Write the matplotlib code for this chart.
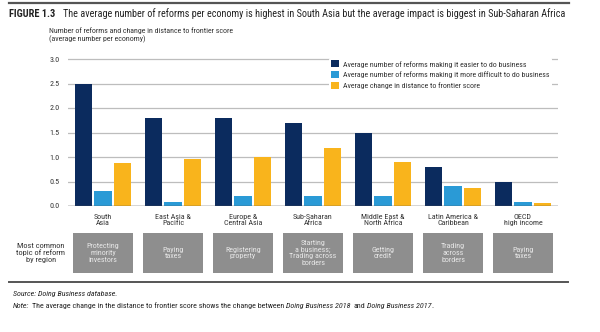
import matplotlib
matplotlib.use("Agg")
import matplotlib.pyplot as plt
import numpy as np
from matplotlib.patches import Rectangle
from matplotlib.lines import Line2D
import matplotlib.transforms as mtrans

plt.rcParams['font.family'] = ['Roboto Condensed', 'Liberation Sans', 'DejaVu Sans']

regions = ["South\nAsia", "East Asia &\nPacific", "Europe &\nCentral Asia", "Sub-Saharan\nAfrica",
           "Middle East &\nNorth Africa", "Latin America &\nCaribbean", "OECD\nhigh income"]
easier = [2.5, 1.8, 1.8, 1.7, 1.5, 0.8, 0.5]
harder = [0.3, 0.09, 0.2, 0.2, 0.2, 0.4, 0.08]
dtf_change = [0.87, 0.96, 1.01, 1.18, 0.90, 0.36, 0.07]
topics = ["Protecting\nminority\ninvestors", "Paying\ntaxes", "Registering\nproperty",
          "Starting\na business;\nTrading across\nborders", "Getting\ncredit",
          "Trading\nacross\nborders", "Paying\ntaxes"]
series_labels = ["Average number of reforms making it easier to do business",
                 "Average number of reforms making it more difficult to do business",
                 "Average change in distance to frontier score"]
yticks = [0.0, 0.5, 1.0, 1.5, 2.0, 2.5, 3.0]

c_dark = "#0B2B5E"
c_blue = "#2A9AD6"
c_yel = "#F9B41C"
c_box = "#8E8E8E"
txt = "#333333"

W, H = 600, 332
fig = plt.figure(figsize=(6, 3.32), dpi=100)

ymax = 3.05
px_per_unit = 49.0
ax_bottom_px = 206
ax_top_px = ax_bottom_px - ymax * px_per_unit
ax = fig.add_axes([68 / W, 1 - ax_bottom_px / H, 490 / W, (ax_bottom_px - ax_top_px) / H])

x = np.arange(len(regions))
bw = 0.245
off = 0.28
ax.bar(x - off, easier, bw, color=c_dark, label=series_labels[0], zorder=3)
ax.bar(x, harder, bw, color=c_blue, label=series_labels[1], zorder=3)
ax.bar(x + off, dtf_change, bw, color=c_yel, label=series_labels[2], zorder=3)

ax.set_xlim(-0.5, len(regions) - 0.5)
ax.set_ylim(0, ymax)
ax.set_yticks(yticks)
ax.set_yticklabels([f"{v:.1f}" for v in yticks], fontsize=5.8, color=txt)
ax.set_xticks(x)
ax.set_xticklabels(regions, fontsize=5.8, color=txt, linespacing=1.0)
ax.tick_params(axis='both', length=0)
ax.tick_params(axis='x', pad=6)
ax.tick_params(axis='y', pad=6)
for s in ax.spines.values():
    s.set_visible(False)
ax.grid(axis='y', color="#BDBDBD", lw=0.9, zorder=0)
ax.axhline(0, color="#555555", lw=1.0, zorder=4)
ax.set_facecolor('none')

leg = ax.legend(loc='upper left', bbox_to_anchor=(329 / W, 1 - 58 / H), bbox_transform=fig.transFigure,
                fontsize=5.7, frameon=True, facecolor='white', edgecolor='none', framealpha=1,
                handlelength=1.0, handleheight=1.0, handletextpad=0.5, labelspacing=0.45,
                borderpad=0.3, borderaxespad=0)
for t in leg.get_texts():
    t.set_color(txt)
leg.set_zorder(5)

fig.text(49 / W, 1 - 35 / H, "Number of reforms and change in distance to frontier score\n(average number per economy)",
         fontsize=5.7, color=txt, va='center', ha='left', linespacing=1.3)

fig.text(9 / W, 1 - 14 / H, "FIGURE 1.3", fontsize=7.5, fontweight='bold', color="#222222", va='center')
fig.text(63 / W, 1 - 14 / H,
         "The average number of reforms per economy is highest in South Asia but the average impact is biggest in Sub-Saharan Africa",
         fontsize=7.3, color="#222222", va='center')

fig.add_artist(Line2D([9 / W, 569 / W], [1 - 3 / H, 1 - 3 / H], color="#555555", lw=1.6, transform=fig.transFigure))
fig.add_artist(Line2D([9 / W, 568 / W], [1 - 282 / H, 1 - 282 / H], color="#555555", lw=1.4, transform=fig.transFigure))

trans = mtrans.blended_transform_factory(ax.transData, fig.transFigure)
bw_box = 0.86
y0 = 1 - 273 / H
y1 = 1 - 233 / H
for i, tp in enumerate(topics):
    r = Rectangle((i - bw_box / 2, y0), bw_box, y1 - y0, transform=trans, facecolor=c_box,
                  edgecolor='none', clip_on=False)
    ax.add_patch(r)
    ax.text(i, (y0 + y1) / 2, tp, transform=trans, ha='center', va='center', fontsize=5.8,
            color="#E8E8E8", linespacing=1.15, clip_on=False)

fig.text(41 / W, 1 - 253 / H, "Most common\ntopic of reform\nby region", ha='center', va='center',
         fontsize=6.0, color=txt, linespacing=1.1)

fig.text(13 / W, 1 - 294 / H, "Source: Doing Business database.", fontsize=5.8, style='italic', color="#222222",
         va='center')
parts = [("Note:", 'italic', 0),
         ("The average change in the distance to frontier score shows the change between", 'normal', 1.6),
         ("Doing Business 2018", 'italic', 1.4), ("and", 'normal', 2.0), ("Doing Business 2017", 'italic', 1.4),
         (".", 'normal', 0.4)]
prev = fig.text(13 / W, 1 - 306 / H, parts[0][0], fontsize=5.75, style=parts[0][1], color="#222222", va='center')
for s, st, gap in parts[1:]:
    prev = ax.annotate(s, xy=(1, 0), xycoords=prev, xytext=(gap, 0), textcoords='offset points',
                       va='bottom', ha='left', fontsize=5.75, style=st,
                       color="#222222", annotation_clip=False)

fig.savefig("out.png", dpi=100)
